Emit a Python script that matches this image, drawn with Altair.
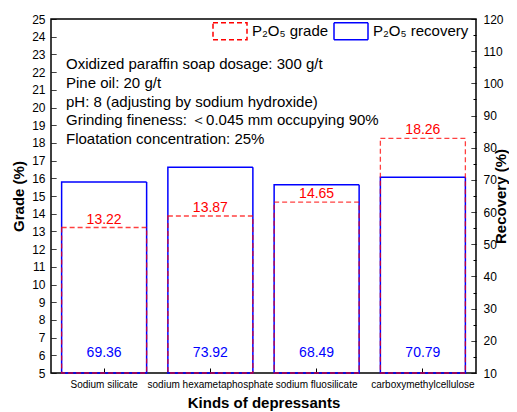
import altair as alt
import pandas as pd

categories = ["Sodium silicate", "sodium hexametaphosphate", "sodium fluosilicate", "carboxymethylcellulose"]
grade = [13.22, 13.87, 14.65, 18.26]
recovery = [69.36, 73.92, 68.49, 70.79]
series_names = ["P₂O₅ grade", "P₂O₅ recovery"]
notes = [
    "Oxidized paraffin soap dosage: 300 g/t",
    "Pine oil: 20 g/t",
    "pH: 8 (adjusting by sodium hydroxide)",
    "Grinding fineness: ＜0.045 mm occupying 90%",
    "Floatation concentration: 25%",
]
grade_ticks = [5 + 0.5 * i for i in range(41)]
recovery_ticks = [10 + 5 * i for i in range(23)]

FONT = "Liberation Sans"
RED = "#ff0000"
BLUE = "#0000ff"

df = pd.DataFrame({"category": categories, "grade": grade, "recovery": recovery})
base = alt.Chart(df)

x_axis = alt.Axis(
    title="Kinds of depressants", labelAngle=0, labelFontSize=10, titleFontSize=15,
    titleFontWeight="bold", domain=False, offset=-5, tickSize=5, labelPadding=6,
    titlePadding=6, tickColor="black", labelColor="black",
)
x_enc = alt.X(
    "category:N",
    sort=categories,
    scale=alt.Scale(paddingInner=0.2, paddingOuter=0.1),
    axis=x_axis,
)

legend_cfg = dict(
    orient="none", legendX=161, legendY=-6, direction="horizontal", title=None,
    symbolType="M-1,-0.5H1V0.5H-1Z", symbolSize=1156, symbolStrokeWidth=1.5,
    labelFontSize=15, labelFont=FONT, labelColor="black", columnPadding=2,
    labelOffset=4, padding=0, symbolFillColor="transparent",
)
stroke_enc = alt.Stroke(
    "series:N",
    scale=alt.Scale(domain=series_names, range=[RED, BLUE]),
    legend=alt.Legend(**legend_cfg),
)
dash_enc = alt.StrokeDash(
    "series:N",
    scale=alt.Scale(domain=series_names, range=[[5, 3], [1, 0]]),
    legend=alt.Legend(**legend_cfg),
)

grade_axis = alt.Axis(
    title="Grade (%)", values=grade_ticks, format="d",
    labelExpr="datum.value % 1 == 0 ? datum.label : ''", labelOverlap=False,
    domain=False, offset=-5, tickSize=5, grid=False,
    tickDash={"condition": {"test": "datum.value % 1 != 0", "value": [0, 2, 3, 20]}, "value": [1, 0]},
    labelPadding=6, labelFontSize=12, titleFontSize=15, titleFontWeight="bold",
    titlePadding=5, orient="left",
)
rec_axis = alt.Axis(
    title="Recovery (%)", values=recovery_ticks, format="d",
    labelExpr="datum.value % 10 == 0 ? datum.label : ''", labelOverlap=False,
    domain=False, offset=-5, tickSize=5, grid=False,
    tickDash={"condition": {"test": "datum.value % 10 != 0", "value": [0, 2, 3, 20]}, "value": [1, 0]},
    labelPadding=7, labelFontSize=12, titleFontSize=15, titleFontWeight="bold",
    titlePadding=5, orient="right", titleAngle=270,
)
grade_scale = alt.Scale(domain=[5, 25], nice=False, zero=False)

grade_bar = base.transform_calculate(series=f'"{series_names[0]}"').mark_bar(
    filled=False, strokeWidth=1.3, strokeOpacity=0.75
).encode(
    x=x_enc,
    y=alt.Y("grade:Q", scale=grade_scale, axis=grade_axis),
    y2=alt.datum(5),
    stroke=stroke_enc,
    strokeDash=dash_enc,
)
grade_text = base.mark_text(
    color=RED, fontSize=14, font=FONT, baseline="alphabetic", dy=-4
).encode(
    x=x_enc,
    y=alt.Y("grade:Q", scale=grade_scale, axis=grade_axis),
    text=alt.Text("grade:Q", format=".2f"),
)

rec_bar = base.transform_calculate(series=f'"{series_names[1]}"').mark_bar(
    filled=False, strokeWidth=1.5
).encode(
    x=x_enc,
    y=alt.Y("recovery:Q", scale=alt.Scale(domain=[10, 120], nice=False, zero=False), axis=rec_axis),
    y2=alt.datum(10),
    stroke=stroke_enc,
    strokeDash=dash_enc,
)
rec_text = base.mark_text(
    color=BLUE, fontSize=14, font=FONT, baseline="middle"
).encode(
    x=x_enc,
    y=alt.value(334),
    text=alt.Text("recovery:Q", format=".2f"),
)

notes_layer = alt.Chart(pd.DataFrame({"k": [0]})).mark_text(
    text=notes, align="left", baseline="middle", fontSize=15, font=FONT,
    lineHeight=18.75, color="black",
).encode(x=alt.value(15), y=alt.value(45))

chart = alt.layer(
    alt.layer(rec_bar, rec_text),
    alt.layer(grade_bar, grade_text),
    notes_layer,
).resolve_scale(y="independent").properties(
    width=425, height=354,
    padding={"left": 43, "top": 11, "right": 33, "bottom": 39},
    autosize="none",
).configure_view(stroke="black", strokeWidth=1.5).configure_axis(
    labelFont=FONT, titleFont=FONT, labelColor="black", titleColor="black", tickColor="black"
)

chart.save("out.html", embed_options={"renderer": "svg", "actions": False})
